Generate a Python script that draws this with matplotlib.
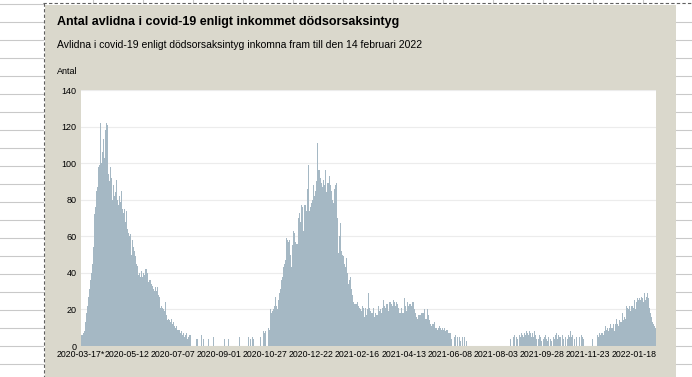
import numpy as np
import pandas as pd
import matplotlib
matplotlib.use('Agg')
import matplotlib.pyplot as plt
from matplotlib.patches import Rectangle

plt.rcParams['font.family'] = ['Liberation Sans', 'DejaVu Sans']

# daily number of deaths, first day 2020-03-17
start_date = '2020-03-17'
deaths = [
    8, 6, 6, 7, 8, 8, 13, 18, 22, 27,
    31, 30, 36, 40, 45, 54, 60, 72, 76, 85,
    87, 98, 94, 99, 122, 100, 106, 113, 108, 103,
    118, 122, 121, 95, 94, 90, 98, 92, 80, 97,
    88, 82, 84, 91, 80, 78, 77, 82, 79, 85,
    76, 75, 73, 75, 68, 74, 63, 64, 62, 60,
    61, 50, 57, 58, 54, 52, 49, 53, 45, 44,
    39, 40, 38, 39, 41, 38, 40, 39, 42, 37,
    42, 40, 35, 36, 37, 36, 34, 33, 31, 30,
    29, 32, 30, 32, 28, 27, 26, 21, 22, 21,
    20, 18, 19, 24, 17, 14, 15, 15, 14, 13,
    15, 12, 13, 12, 11, 10, 11, 9, 8, 9,
    9, 7, 8, 6, 17, 7, 5, 6, 7, 4,
    3, 5, 6, 6, 0, 5, 0, 0, 0, 0,
    4, 0, 4, 0, 0, 0, 6, 0, 0, 4,
    0, 0, 0, 0, 0, 4, 0, 0, 0, 0,
    0, 5, 0, 0, 0, 0, 0, 0, 0, 0,
    0, 0, 0, 0, 4, 0, 0, 0, 0, 4,
    0, 0, 0, 0, 0, 0, 0, 0, 0, 0,
    0, 0, 0, 5, 0, 0, 0, 0, 0, 0,
    0, 0, 0, 0, 5, 0, 4, 0, 5, 0,
    4, 0, 0, 0, 0, 4, 0, 0, 5, 0,
    9, 0, 8, 7, 8, 0, 8, 0, 10, 9,
    20, 18, 21, 19, 20, 22, 27, 28, 22, 20,
    25, 29, 31, 33, 36, 38, 43, 45, 47, 52,
    59, 58, 57, 58, 59, 50, 43, 55, 63, 62,
    60, 57, 56, 56, 70, 73, 47, 68, 77, 76,
    63, 66, 77, 77, 74, 86, 99, 67, 74, 76,
    78, 80, 86, 88, 82, 85, 90, 111, 63, 96,
    96, 92, 89, 87, 85, 91, 88, 96, 84, 86,
    89, 89, 93, 88, 85, 84, 80, 78, 86, 88,
    89, 85, 70, 51, 60, 67, 54, 52, 50, 49,
    45, 43, 47, 48, 40, 34, 36, 38, 33, 31,
    28, 24, 23, 24, 23, 23, 24, 22, 21, 22,
    20, 19, 22, 21, 16, 18, 21, 17, 20, 29,
    22, 21, 19, 18, 18, 21, 20, 16, 18, 17,
    17, 22, 20, 19, 20, 18, 21, 25, 25, 22,
    21, 23, 23, 20, 19, 24, 24, 23, 22, 25,
    25, 24, 22, 24, 24, 23, 21, 18, 18, 21,
    20, 18, 18, 26, 22, 19, 19, 24, 22, 23,
    23, 21, 22, 24, 24, 20, 18, 17, 16, 15,
    17, 17, 17, 19, 18, 18, 18, 20, 19, 15,
    15, 20, 17, 14, 14, 12, 11, 12, 12, 13,
    11, 10, 10, 9, 10, 11, 11, 10, 9, 10,
    9, 11, 10, 8, 9, 9, 7, 8, 7, 7,
    4, 0, 6, 0, 5, 6, 0, 5, 4, 0,
    5, 3, 0, 5, 4, 0, 5, 0, 3, 0,
    0, 0, 0, 0, 0, 0, 0, 0, 0, 0,
    0, 0, 0, 0, 0, 0, 0, 0, 0, 0,
    0, 0, 4, 0, 0, 0, 0, 0, 0, 0,
    0, 0, 0, 0, 0, 0, 0, 0, 0, 0,
    0, 0, 0, 0, 0, 0, 0, 0, 0, 0,
    0, 0, 4, 0, 0, 5, 4, 6, 0, 5,
    4, 0, 0, 6, 5, 7, 6, 8, 5, 7,
    6, 8, 7, 5, 6, 8, 7, 5, 7, 6,
    5, 8, 6, 4, 7, 0, 4, 6, 5, 3,
    5, 0, 4, 5, 6, 5, 4, 3, 5, 0,
    4, 6, 3, 0, 5, 4, 6, 5, 7, 4,
    6, 5, 6, 5, 0, 6, 4, 0, 3, 5,
    0, 4, 6, 5, 3, 8, 5, 6, 0, 7,
    4, 0, 5, 0, 0, 6, 5, 0, 6, 5,
    4, 6, 0, 0, 0, 0, 0, 0, 0, 0,
    0, 4, 0, 0, 0, 0, 0, 6, 6, 5,
    7, 6, 7, 10, 7, 6, 8, 11, 9, 7,
    10, 8, 10, 12, 10, 13, 10, 12, 8, 12,
    11, 15, 12, 11, 14, 13, 12, 13, 18, 14,
    16, 15, 18, 22, 21, 20, 22, 21, 19, 22,
    22, 21, 25, 26, 20, 24, 26, 25, 26, 29,
    25, 27, 26, 24, 28, 29, 25, 27, 29, 26,
    22, 21, 18, 16, 13, 12, 11, 11, 10,
]

tick_labels = ['2020-03-17*', '2020-05-12', '2020-07-07', '2020-09-01', '2020-10-27',
               '2020-12-22', '2021-02-16', '2021-04-13', '2021-06-08', '2021-08-03',
               '2021-09-28', '2021-11-23', '2022-01-18']
y_ticks = [0, 20, 40, 60, 80, 100, 120, 140]

title = 'Antal avlidna i covid-19 enligt inkommet dödsorsaksintyg'
subtitle = 'Avlidna i covid-19 enligt dödsorsaksintyg inkomna fram till den 14 februari 2022'
y_label = 'Antal'

dates = pd.date_range(start_date, periods=len(deaths), freq='D').strftime('%Y-%m-%d').tolist()
x = np.arange(len(deaths))
tick_pos = [dates.index(lbl.rstrip('*')) for lbl in tick_labels]

W, H = 692, 377
fig = plt.figure(figsize=(W / 100, H / 100), dpi=100)
fig.patch.set_facecolor('white')

# spreadsheet background, drawn in pixel coordinates
bg = fig.add_axes([0, 0, 1, 1])
bg.set_xlim(0, W)
bg.set_ylim(H, 0)
bg.axis('off')
grid_col = '#c9c9c9'
for yy in np.arange(21.7, H, 18.0):
    bg.plot([0, 43], [yy, yy], color=grid_col, lw=0.8)
    bg.plot([676, W], [yy, yy], color=grid_col, lw=0.8)
bg.plot([0, 43], [3.5, 3.5], color=grid_col, lw=0.8)
for xx in range(93, 650, 50):
    bg.plot([xx, xx], [0, 3], color=grid_col, lw=0.8)
bg.add_patch(Rectangle((45, 5), 675.5 - 45, H - 5, facecolor='#dad8cc', edgecolor='none'))
bg.plot([43.5, 43.5], [3, H], color='#606060', lw=0.8, ls=(0, (3, 2)))
bg.plot([43, W], [3, 3], color='#606060', lw=0.8, ls=(0, (3, 2)))

bg.text(57, 22, title, fontsize=9, fontweight='bold', va='center', ha='left', color='black')
bg.text(57, 45, subtitle, fontsize=7.5, va='center', ha='left', color='black')
bg.text(57, 71, y_label, fontsize=6.5, va='center', ha='left', color='black')

# chart
ax = fig.add_axes([80.5 / W, (H - 346) / H, (656 - 80.5) / W, (346 - 90) / H])
ax.set_facecolor('white')
ax.bar(x, deaths, width=1.0, color='#a5b8c4', linewidth=0)
ax.set_xlim(-0.5, len(deaths) - 0.5)
ax.set_ylim(0, 140)
ax.set_yticks(y_ticks)
ax.set_xticks(tick_pos)
ax.set_xticklabels(tick_labels)
ax.tick_params(axis='y', length=0, labelsize=6.5, pad=3)
ax.tick_params(axis='x', length=0, labelsize=6.3, pad=3)
ax.yaxis.grid(True, color='#ececec', lw=0.8)
ax.set_axisbelow(True)
for s in ax.spines.values():
    s.set_visible(False)

fig.savefig('out.png', dpi=100)
